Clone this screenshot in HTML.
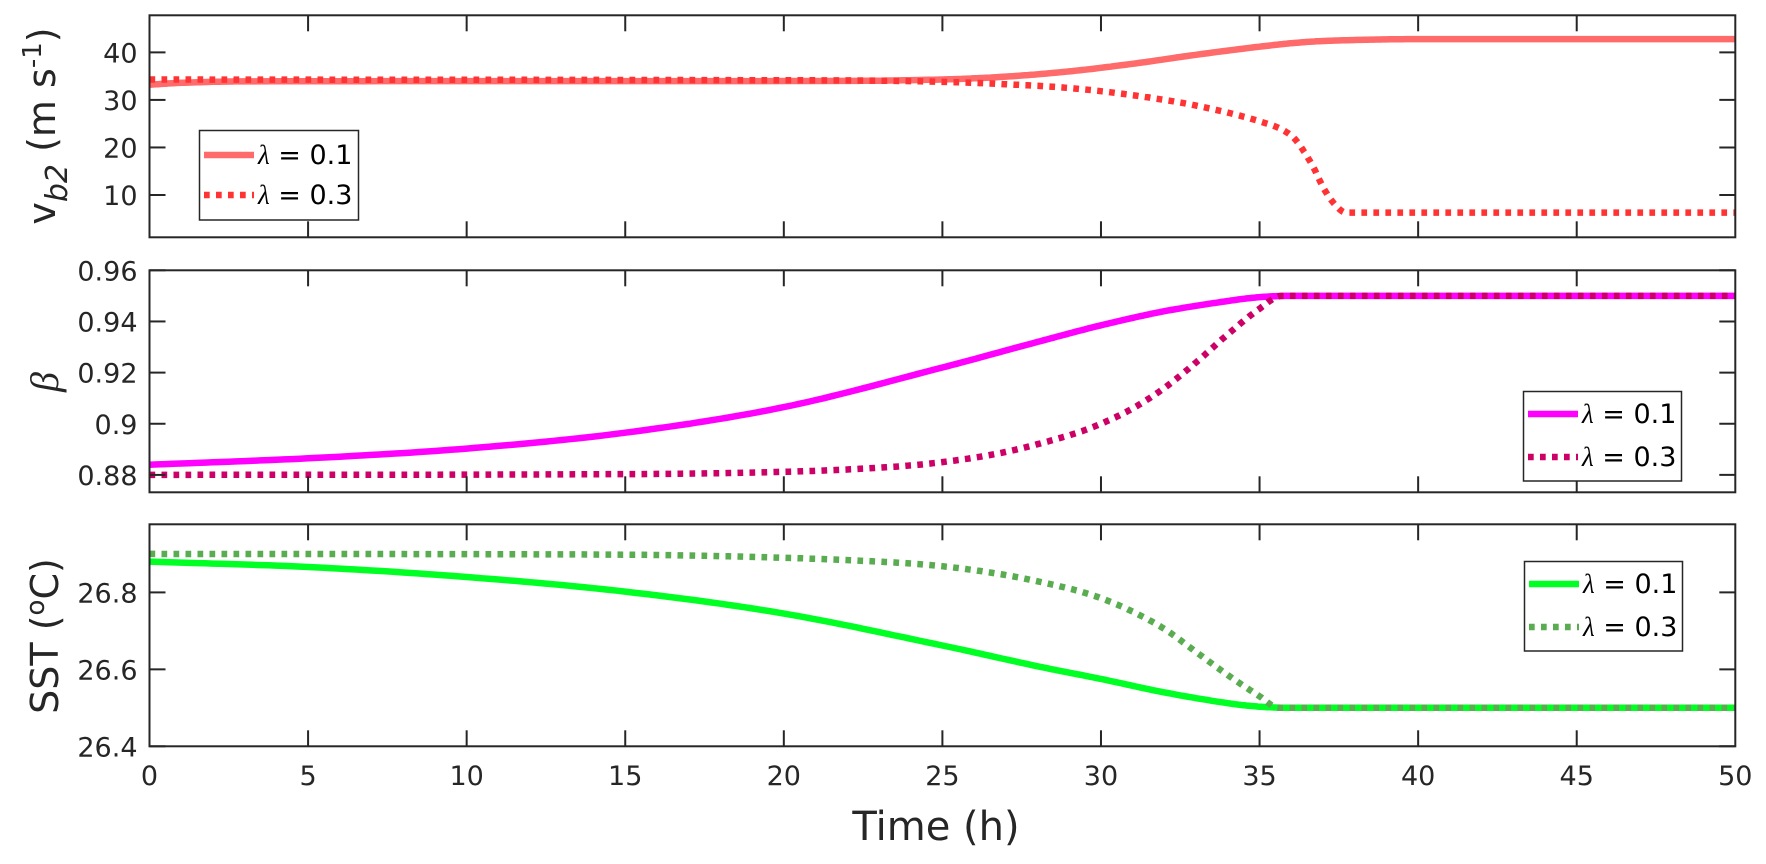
<!DOCTYPE html>
<html><head><meta charset="utf-8"><style>
html,body{margin:0;padding:0;background:#fff;}
svg{display:block;font-family:"DejaVu Sans","Liberation Sans",sans-serif;}
</style></head><body>
<svg id="s" width="1766" height="864" xmlns="http://www.w3.org/2000/svg">
<rect width="1766" height="864" fill="#fff"/>
<g id="plots"></g>
<g id="frames" fill="none" stroke="#262626" stroke-width="2"></g>
<g id="labels" fill="#262626" font-size="27"></g>
<g font-size="27" fill="#000">
 <rect x="199.5" y="130.5" width="159" height="89.5" fill="#fff" stroke="#262626" stroke-width="1.5"/>
 <line x1="204" y1="155" x2="254" y2="155" stroke="#ff6b6b" stroke-width="6.5"/>
 <line x1="204" y1="195" x2="254" y2="195" stroke="#ff3333" stroke-width="6.5" stroke-dasharray="5.7 6.3"/>
 <text x="258" y="164"><tspan font-family="Liberation Serif" font-style="italic">λ</tspan> = 0.1</text>
 <text x="258" y="204"><tspan font-family="Liberation Serif" font-style="italic">λ</tspan> = 0.3</text>

 <rect x="1523.5" y="391.5" width="158" height="89.5" fill="#fff" stroke="#262626" stroke-width="1.5"/>
 <line x1="1528" y1="414" x2="1578" y2="414" stroke="#ff00ff" stroke-width="6.5"/>
 <line x1="1528" y1="457" x2="1578" y2="457" stroke="#cc0066" stroke-width="6.5" stroke-dasharray="5.7 6.3"/>
 <text x="1582" y="423"><tspan font-family="Liberation Serif" font-style="italic">λ</tspan> = 0.1</text>
 <text x="1582" y="466"><tspan font-family="Liberation Serif" font-style="italic">λ</tspan> = 0.3</text>

 <rect x="1524.5" y="561.5" width="158" height="89.5" fill="#fff" stroke="#262626" stroke-width="1.5"/>
 <line x1="1529" y1="584" x2="1579" y2="584" stroke="#00ff22" stroke-width="6.5"/>
 <line x1="1529" y1="627" x2="1579" y2="627" stroke="#5aac50" stroke-width="6.5" stroke-dasharray="5.7 6.3"/>
 <text x="1583" y="593"><tspan font-family="Liberation Serif" font-style="italic">λ</tspan> = 0.1</text>
 <text x="1583" y="636"><tspan font-family="Liberation Serif" font-style="italic">λ</tspan> = 0.3</text>
</g>
<g fill="#262626" font-size="38">
 <text transform="translate(55,126) rotate(-90)" text-anchor="middle">v<tspan font-size="30" font-style="italic" dy="12">b2</tspan><tspan dy="-12"> (m s</tspan><tspan font-size="26" dy="-14">-1</tspan><tspan dy="14">)</tspan></text>
 <text transform="translate(58,382) rotate(-90)" text-anchor="middle" font-family="Liberation Serif" font-style="italic" font-size="40">β</text>
 <text transform="translate(58,636) rotate(-90)" text-anchor="middle">SST (<tspan font-size="26" dy="-14">o</tspan><tspan dy="14">C)</tspan></text>
 <text x="936" y="840" text-anchor="middle" font-size="40">Time (h)</text>
</g>
</svg>
<script>
const L=149.5,R=1735.3;
const X=t=>L+(R-L)*t/50;
const panels=[
 {top:15.3,bot:237.3,y0:1.1,y1:47.8,ticks:[10,20,30,40],fmt:v=>v},
 {top:270.3,bot:492.3,y0:0.8732,y1:0.96,ticks:[0.88,0.9,0.92,0.94,0.96],fmt:v=>v==0.9?"0.9":v.toFixed(2)},
 {top:524.3,bot:746.3,y0:26.4,y1:26.977,ticks:[26.4,26.6,26.8],fmt:v=>v.toFixed(1)}
];
const series=[
 [0,"#ff6b6b",null,[[0,33.2],[1,33.6],[3,33.9],[22,34],[25,34.3],[27,34.9],[29,36],[31,37.6],[33,39.5],[35,41.2],[36.5,42.2],[38,42.6],[40,42.8],[50,42.8]]],
 [0,"#ff3333","5.7 6.3",[[0,34.3],[22,34.1],[25,33.8],[27,33.3],[29,32.5],[31,31],[33,28.8],[35,25.5],[36,22.5],[36.6,17],[37.1,10.5],[37.6,6.6],[38,6.3],[50,6.3]]],
 [1,"#ff00ff",null,[[0,0.884],[5,0.8865],[10,0.8903],[15,0.8965],[20,0.9065],[25,0.922],[28,0.932],[30,0.9385],[32,0.9440],[34,0.9480],[35,0.9495],[36,0.95],[50,0.95]]],
 [1,"#cc0066","5.7 6.3",[[0,0.88],[15,0.8803],[20,0.8812],[23,0.8828],[25,0.885],[27,0.889],[29,0.8955],[30,0.9],[31,0.906],[32,0.914],[33,0.924],[34,0.935],[35,0.945],[35.7,0.95],[50,0.95]]],
 [2,"#00ff22",null,[[0,26.88],[5,26.866],[10,26.84],[15,26.802],[20,26.745],[25,26.662],[28,26.608],[30,26.575],[32,26.54],[34,26.512],[35,26.503],[36,26.5],[50,26.5]]],
 [2,"#5aac50","5.7 6.3",[[0,26.9],[15,26.898],[20,26.89],[23,26.88],[25,26.868],[27,26.845],[29,26.81],[30,26.785],[31,26.75],[32,26.705],[33,26.645],[34,26.585],[35,26.53],[35.6,26.5],[50,26.5]]]
];
const ns="http://www.w3.org/2000/svg";
const el=(p,tag,a,txt)=>{const e=document.createElementNS(ns,tag);for(const k in a)e.setAttribute(k,a[k]);if(txt!=null)e.textContent=txt;p.appendChild(e);return e;};
const plots=document.getElementById("plots"),fr=document.getElementById("frames"),lb=document.getElementById("labels");
function dense(pts){const out=[];for(let i=0;i<pts.length-1;i++){const p0=pts[Math.max(0,i-1)],p1=pts[i],p2=pts[i+1],p3=pts[Math.min(pts.length-1,i+2)];
 const n=20;for(let k=0;k<n;k++){const s=k/n;const s2=s*s,s3=s2*s;
 const x=p1[0]+(p2[0]-p1[0])*s;
 const m1=(p2[1]-p0[1])/(p2[0]-p0[0]||1)*(p2[0]-p1[0]),m2=(p3[1]-p1[1])/(p3[0]-p1[0]||1)*(p2[0]-p1[0]);
 let y=(2*s3-3*s2+1)*p1[1]+(s3-2*s2+s)*m1+(-2*s3+3*s2)*p2[1]+(s3-s2)*m2;
 const lo=Math.min(p1[1],p2[1]),hi=Math.max(p1[1],p2[1]);y=Math.max(lo,Math.min(hi,y));out.push([x,y]);}}
 out.push(pts[pts.length-1]);return out;}
series.forEach(([pi,c,d,pts])=>{const P=panels[pi];const Y=v=>P.bot-(v-P.y0)/(P.y1-P.y0)*(P.bot-P.top);
 const s=dense(pts).map(p=>X(p[0]).toFixed(1)+","+Y(p[1]).toFixed(1)).join(" ");
 const a={points:s,fill:"none",stroke:c,"stroke-width":6.5};if(d){a["stroke-dasharray"]=d;}
 el(plots,"polyline",a);});
panels.forEach((P,i)=>{const Y=v=>P.bot-(v-P.y0)/(P.y1-P.y0)*(P.bot-P.top);
 el(fr,"rect",{x:L,y:P.top,width:R-L,height:P.bot-P.top});
 P.ticks.forEach(v=>{const y=Y(v);el(fr,"line",{x1:L,y1:y,x2:L+16,y2:y});el(fr,"line",{x1:R,y1:y,x2:R-16,y2:y});
  el(lb,"text",{x:L-12,y:y+10,"text-anchor":"end"},P.fmt(v));});
 for(let t=5;t<50;t+=5){const x=X(t);el(fr,"line",{x1:x,y1:P.top,x2:x,y2:P.top+16});el(fr,"line",{x1:x,y1:P.bot,x2:x,y2:P.bot-16});}
 if(i==2){for(let t=0;t<=50;t+=5){el(lb,"text",{x:X(t),y:785,"text-anchor":"middle"},String(t));}}
});
</script>
</body></html>
